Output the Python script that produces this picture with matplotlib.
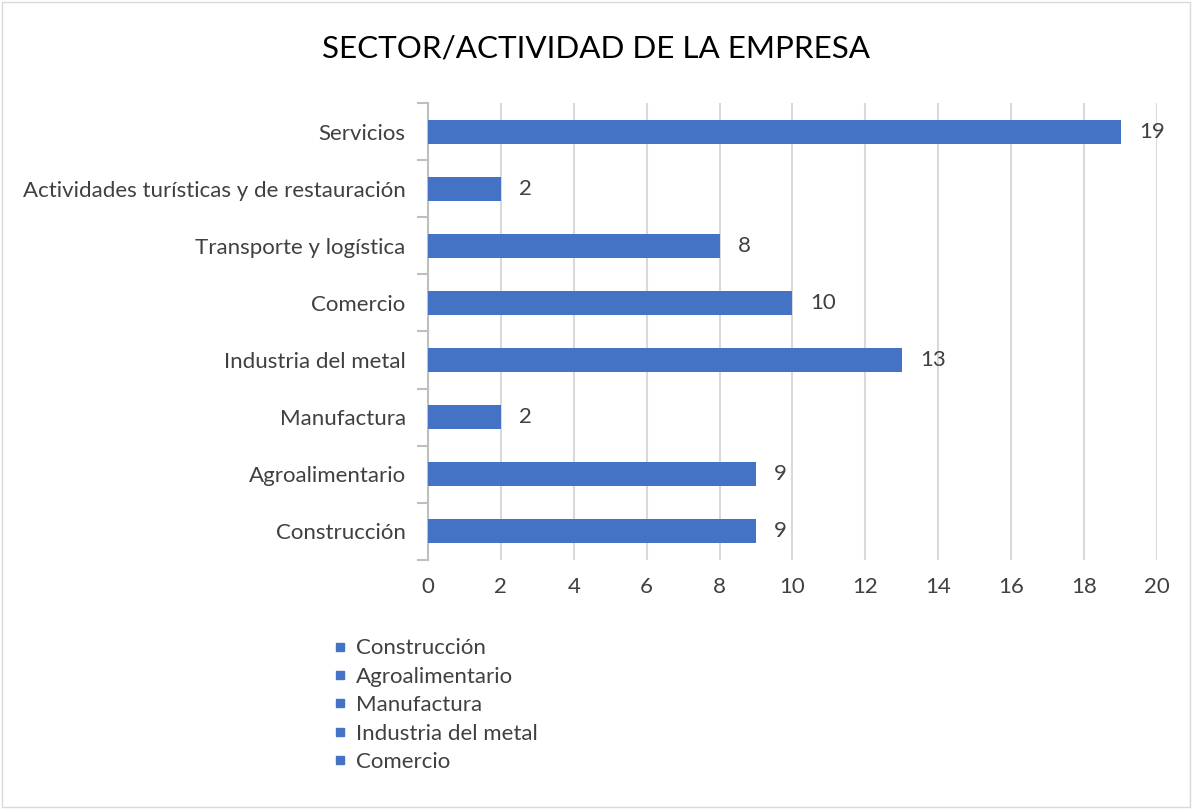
import matplotlib.pyplot as plt
from matplotlib.lines import Line2D
from matplotlib.patches import Rectangle

categorias = ['Construcción', 'Agroalimentario', 'Manufactura', 'Industria del metal',
              'Comercio', 'Transporte y logística',
              'Actividades turísticas y de restauración', 'Servicios']
valores = [9, 9, 2, 13, 10, 8, 2, 19]
leyenda = ['Construcción', 'Agroalimentario', 'Manufactura', 'Industria del metal', 'Comercio']

azul = '#4472C4'
texto = '#404040'
plt.rcParams['font.family'] = ['Lato', 'DejaVu Sans']

fig = plt.figure(figsize=(11.92, 8.09), dpi=100)
ax = fig.add_axes([0.359, 0.3078, 0.9706 - 0.359, 0.8727 - 0.3078])

y = list(range(len(categorias)))
ax.barh(y, valores, height=0.42, color=azul, zorder=3)
for yi, v in zip(y, valores):
    ax.text(v + 0.5, yi, str(v), va='center', ha='left', fontsize=16, color=texto)

ax.set_xlim(0, 20)
ax.set_ylim(-0.5, len(categorias) - 0.5)
ax.set_xticks(range(0, 21, 2))
ax.set_yticks(y)
ax.set_yticklabels(categorias)
ax.set_yticks([i - 0.5 for i in range(len(categorias) + 1)], minor=True)
ax.tick_params(axis='y', which='major', length=0, pad=16, labelsize=16, labelcolor=texto)
ax.tick_params(axis='y', which='minor', length=8, color='#bfbfbf', width=1.5)
ax.tick_params(axis='x', length=0, pad=12, labelsize=16, labelcolor=texto)
ax.grid(axis='x', color='#d9d9d9', linewidth=1.5, zorder=0)
for s in ['top', 'right', 'bottom']:
    ax.spines[s].set_visible(False)
ax.spines['left'].set_color('#bfbfbf')
ax.spines['left'].set_linewidth(1.5)

fig.text(0.5, 0.94, 'SECTOR/ACTIVIDAD DE LA EMPRESA', ha='center', va='center',
         fontsize=22.6, color='black')

handles = [Line2D([], [], marker='s', linestyle='none', color=azul, markersize=6)
           for _ in leyenda]
fig.legend(handles, leyenda, loc='upper left', bbox_to_anchor=(0.28, 0.211),
           frameon=False, fontsize=16, labelcolor=texto, handlelength=0.6,
           handletextpad=0.4, labelspacing=0.38, borderaxespad=0, borderpad=0)

fig.patches.append(Rectangle((0.002, 0.002), 0.996, 0.996, transform=fig.transFigure,
                             fill=False, edgecolor='#d9d9d9', linewidth=1))
fig.savefig('out.png', dpi=100)
